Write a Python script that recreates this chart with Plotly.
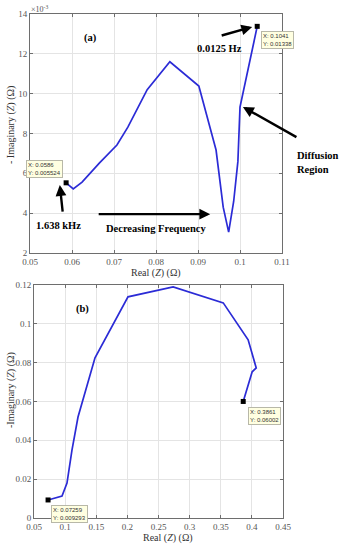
import plotly.graph_objects as go

# ---- data (a) ----
a_real = [0.0586, 0.0603, 0.0624, 0.0665, 0.0707, 0.0733, 0.0779, 0.0833,
          0.0902, 0.0943, 0.0960, 0.0973, 0.0985, 0.0995, 0.1000, 0.1041]
a_imag = [0.005524, 0.00522, 0.00556, 0.00651, 0.00742, 0.00832, 0.0102, 0.0116,
          0.01038, 0.00717, 0.0043, 0.00305, 0.0046, 0.0066, 0.00933, 0.01338]
a_marks_x = [0.0586, 0.1041]
a_marks_y = [0.005524, 0.01338]
a_xticks = [0.05, 0.06, 0.07, 0.08, 0.09, 0.10, 0.11]
a_xticktext = ["0.05", "0.06", "0.07", "0.08", "0.09", "0.1", "0.11"]
a_yticks = [0.002, 0.004, 0.006, 0.008, 0.010, 0.012, 0.014]
a_yticktext = ["2", "4", "6", "8", "10", "12", "14"]

# ---- data (b) ----
b_real = [0.07259, 0.095, 0.103, 0.111, 0.1207, 0.148, 0.201, 0.2735,
          0.354, 0.394, 0.407, 0.4005, 0.3861]
b_imag = [0.009293, 0.0113, 0.018, 0.035, 0.052, 0.0825, 0.1139, 0.119,
          0.1108, 0.0918, 0.0773, 0.0753, 0.06002]
b_marks_x = [0.07259, 0.3861]
b_marks_y = [0.009293, 0.06002]
b_xticks = [0.05, 0.10, 0.15, 0.20, 0.25, 0.30, 0.35, 0.40, 0.45]
b_xticktext = ["0.05", "0.1", "0.15", "0.2", "0.25", "0.3", "0.35", "0.4", "0.45"]
b_yticks = [0, 0.02, 0.04, 0.06, 0.08, 0.10, 0.12]
b_yticktext = ["0", "0.02", "0.04", "0.06", "0.08", "0.1", "0.12"]

W, H = 340, 550
def px(x): return x / W
def py(y): return 1 - y / H

LINE = "#2b2bd6"
SERIF = "Liberation Serif"
SANS = "Liberation Sans"

fig = go.Figure()
fig.add_trace(go.Scatter(x=a_real, y=a_imag, mode="lines",
                         line=dict(color=LINE, width=1.7), xaxis="x", yaxis="y",
                         showlegend=False, hoverinfo="skip"))
fig.add_trace(go.Scatter(x=a_marks_x, y=a_marks_y, mode="markers",
                         marker=dict(symbol="square", size=5, color="black"),
                         xaxis="x", yaxis="y", showlegend=False))
fig.add_trace(go.Scatter(x=b_real, y=b_imag, mode="lines",
                         line=dict(color=LINE, width=1.7), xaxis="x2", yaxis="y2",
                         showlegend=False, hoverinfo="skip"))
fig.add_trace(go.Scatter(x=b_marks_x, y=b_marks_y, mode="markers",
                         marker=dict(symbol="square", size=5, color="black"),
                         xaxis="x2", yaxis="y2", showlegend=False))

axcommon = dict(showline=True, linecolor="#6e6e6e", linewidth=1, mirror="ticks",
                ticks="inside", ticklen=3, tickcolor="#6e6e6e", automargin=False,
                showgrid=True, gridcolor="#e4e4e4", gridwidth=1, zeroline=False,
                tickfont=dict(family=SERIF, size=9, color="#555555"))

fig.update_layout(
    width=W, height=H, margin=dict(l=0, r=0, t=0, b=0),
    paper_bgcolor="white", plot_bgcolor="white",
    xaxis=dict(domain=[px(30), px(282)], range=[0.05, 0.11], anchor="y",
               tickvals=a_xticks, ticktext=a_xticktext, **axcommon),
    yaxis=dict(domain=[py(253), py(14)], range=[0.002, 0.014], anchor="x",
               tickvals=a_yticks, ticktext=a_yticktext, **axcommon),
    xaxis2=dict(domain=[px(34), px(283)], range=[0.05, 0.45], anchor="y2",
                tickvals=b_xticks, ticktext=b_xticktext, **axcommon),
    yaxis2=dict(domain=[py(518), py(285)], range=[0, 0.12], anchor="x2",
                tickvals=b_yticks, ticktext=b_yticktext, **axcommon),
)

C = dict(xanchor="center", yanchor="middle")
ann = []
bold = dict(family=SERIF, size=10.5, color="black")
# panel labels
ann.append(dict(x=0.0643, y=0.0128, xref="x", yref="y", text="<b>(a)</b>",
                showarrow=False, font=bold, **C))
ann.append(dict(x=0.1272, y=0.1077, xref="x2", yref="y2", text="<b>(b)</b>",
                showarrow=False, font=bold, **C))
# exponent
ann.append(dict(x=px(29), y=py(9), xref="paper", yref="paper", xanchor="left",
                yanchor="middle", text="×10<sup>-3</sup>", showarrow=False,
                font=dict(family=SERIF, size=8, color="#555555")))
# axis titles
ann.append(dict(x=px(156), y=py(273), xref="paper", yref="paper",
                text="Real (<i>Z</i>) (Ω)", showarrow=False,
                font=dict(family=SERIF, size=10, color="#333333"), **C))
ann.append(dict(x=px(168), y=py(538), xref="paper", yref="paper",
                text="Real (<i>Z</i>) (Ω)", showarrow=False,
                font=dict(family=SERIF, size=10, color="#333333"), **C))
ann.append(dict(x=px(11), y=py(125), xref="paper", yref="paper", textangle=-90,
                text="- Imaginary (<i>Z</i>) (Ω)", showarrow=False,
                font=dict(family=SERIF, size=10, color="#333333"), **C))
ann.append(dict(x=px(11), y=py(390), xref="paper", yref="paper", textangle=-90,
                text="-Imaginary (<i>Z</i>) (Ω)", showarrow=False,
                font=dict(family=SERIF, size=10, color="#333333"), **C))
# text labels
ann.append(dict(x=0.0567, y=0.0034, xref="x", yref="y", text="<b>1.638 kHz</b>",
                showarrow=False, font=bold, **C))
ann.append(dict(x=0.0800, y=0.00325, xref="x", yref="y",
                text="<b>Decreasing Frequency</b>", showarrow=False, font=bold, **C))
ann.append(dict(x=0.0950, y=0.01229, xref="x", yref="y", text="<b>0.0125 Hz</b>",
                showarrow=False, font=bold, **C))
ann.append(dict(x=px(295), y=py(162), xref="paper", yref="paper", xanchor="left",
                yanchor="middle", align="left", text="<b>Diffusion<br>Region</b>",
                showarrow=False, font=bold))
# arrows
arr = dict(text="", showarrow=True, arrowhead=2, arrowsize=0.9, arrowwidth=2.4,
           arrowcolor="black", xref="x", yref="y", axref="pixel", ayref="pixel")
ann.append(dict(x=0.0571, y=0.00541, ax=3, ay=28, **arr))
ann.append(dict(x=0.1029, y=0.01335, ax=-32, ay=9, **arr))
ann.append(dict(x=0.1007, y=0.00933, ax=55, ay=31, **arr))
ann.append(dict(x=0.0929, y=0.00395, ax=-113, ay=0, **arr))
# data tips
tip = dict(xref="paper", yref="paper", showarrow=False, align="left",
           bgcolor="#ffffe1", bordercolor="#b8b8a8", borderwidth=1, borderpad=1,
           font=dict(family=SANS, size=6, color="#333333"), **C)
ann.append(dict(x=px(44), y=py(168.5), text="X: 0.0586<br>Y: 0.005524", **tip))
ann.append(dict(x=px(277.5), y=py(40), text="X: 0.1041<br>Y: 0.01338", **tip))
ann.append(dict(x=px(264.5), y=py(415.5), text="X: 0.3861<br>Y: 0.06002", **tip))
ann.append(dict(x=px(69.5), y=py(513.5), text="X: 0.07259<br>Y: 0.009293", **tip))

fig.update_layout(annotations=ann)
fig.write_html("out.html", config={"displayModeBar": False},
               post_script="document.body.style.margin='0';"
                           "document.body.style.overflow='hidden';")
